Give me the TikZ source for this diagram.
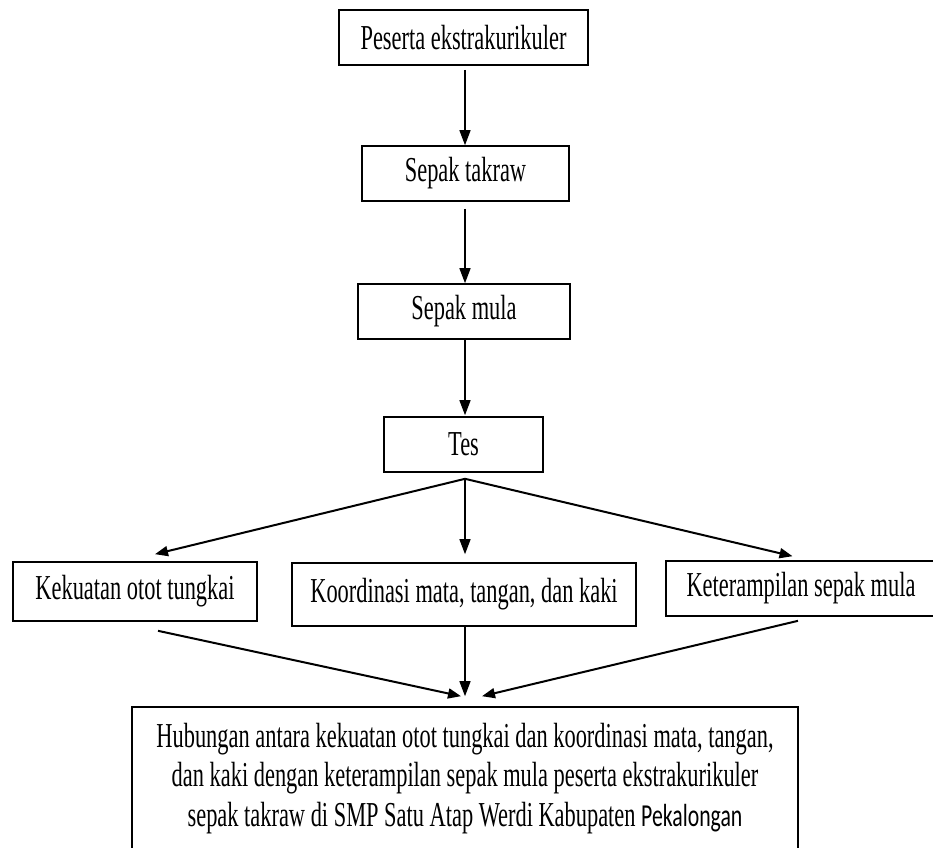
\documentclass[tikz,border=0pt]{standalone}
\usepackage{fontspec}
\setmainfont[FakeStretch=0.64]{Liberation Serif}
\newfontfamily\pekfont[FakeStretch=0.68]{Carlito}
\usetikzlibrary{arrows.meta,calc}
\begin{document}
\begin{tikzpicture}[x=1pt,y=-1pt,
  box/.style={draw, line width=1.6pt, inner sep=0pt, font=\fontsize{35}{39.5}\selectfont, anchor=center, align=center},
  arr/.style={-{Triangle[length=15pt,width=11pt]}, line width=1.4pt},
  sarr/.style={-{Triangle[length=13pt,width=10pt]}, line width=2pt}]
\useasboundingbox (0,0) rectangle (933,847);
\fill[white] (0,0) rectangle (933,847);
\clip (0,0) rectangle (933,847);
\node[box, minimum width=249pt, minimum height=55pt] (b1) at (463.5,37.5) {Peserta ekstrakurikuler};
\node[box, minimum width=207pt, minimum height=55pt] (b2) at (465.5,173.5) {Sepak takraw};
\node[box, minimum width=212pt, minimum height=55pt] (b3) at (464,311.5) {Sepak mula};
\node[box, minimum width=159pt, minimum height=55pt] (b4) at (463.5,444.5) {Tes};
\node[box, minimum width=244pt, minimum height=59pt] (lb) at (135,591.5) {Kekuatan otot tungkai};
\node[box, minimum width=344pt, minimum height=63pt] (mb) at (464,594.5) {Koordinasi mata, tangan, dan kaki};
\node[box, minimum width=270pt, minimum height=55pt] (rb) at (801,588.5) {Keterampilan sepak mula};
\node[box, minimum width=666pt, minimum height=143pt] (fb) at (465,778.5) {Hubungan antara kekuatan otot tungkai dan koordinasi mata, tangan,\\ dan kaki dengan keterampilan sepak mula peserta ekstrakurikuler\\ sepak takraw di SMP Satu Atap Werdi Kabupaten {\pekfont\fontsize{32}{39.5}\selectfont Pekalongan}};
% vertical chain
\draw[arr] ($(b1.south)+(1.5,4)$) -- ($(b2.north)+(-0.5,0)$);
\draw[arr] ($(b2.south)+(-0.5,7)$) -- ($(b3.north)+(1,0)$);
\draw[arr] ($(b3.south)+(1,0)$) -- ($(b4.north)+(1.5,-1)$);
% fan out from Tes
\coordinate (t0) at ($(b4.south)+(1.5,6)$);
\coordinate (lt) at ($(lb.north)+(20,-7)$);
\coordinate (mt) at ($(mb.north)+(1,-8)$);
\coordinate (rt) at ($(rb.north)+(-8.5,-4)$);
\draw[sarr] (t0) -- (lt);
\draw[arr] (t0) -- (mt);
\draw[sarr] (t0) -- (rt);
% converge to final box
\coordinate (ls) at ($(lb.south)+(23,9)$);
\coordinate (rs) at ($(rb.south)+(-3,4)$);
\coordinate (le) at ($(fb.north)+(-4,-10)$);
\coordinate (me) at ($(fb.north)+(0,-10)$);
\coordinate (re) at ($(fb.north)+(17,-10)$);
\draw[sarr] (ls) -- (le);
\draw[arr] ($(mb.south)+(1,0)$) -- (me);
\draw[sarr] (rs) -- (re);
\end{tikzpicture}
\end{document}
